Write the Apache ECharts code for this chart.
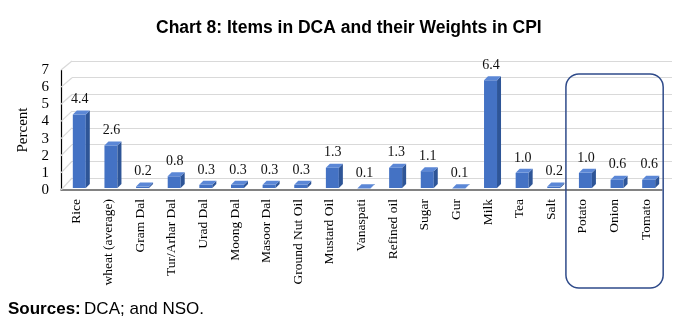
<!DOCTYPE html>
<html>
<head>
<meta charset="utf-8">
<script src="https://cdn.jsdelivr.net/npm/echarts@6/dist/echarts.min.js"></script>
<style>
  html, body { margin: 0; padding: 0; background: #fff; }
  #chart { width: 682px; height: 328px; }
</style>
</head>
<body>
<div id="chart"></div>
<script>
// Items covered by DCA and their weights (%) in the CPI basket
const categories = ['Rice', 'wheat (average)', 'Gram Dal', 'Tur/Arhar Dal', 'Urad Dal', 'Moong Dal',
  'Masoor Dal', 'Ground Nut Oil', 'Mustard Oil', 'Vanaspati', 'Refined oil', 'Sugar', 'Gur',
  'Milk', 'Tea', 'Salt', 'Potato', 'Onion', 'Tomato'];
const weights = [4.4, 2.6, 0.2, 0.8, 0.3, 0.3, 0.3, 0.3, 1.3, 0.1, 1.3, 1.1, 0.1, 6.4, 1.0, 0.2, 1.0, 0.6, 0.6];
const yTicks = [0, 1, 2, 3, 4, 5, 6, 7];
// vegetables highlighted with a box
const boxedFirst = 'Potato';
const boxedLast = 'Tomato';

const serif = '"Liberation Serif", "Times New Roman", serif';
const sans = '"Liberation Sans", Arial, sans-serif';

const chart = echarts.init(document.getElementById('chart'));

// 3D-looking column: front face, darker right side, lighter top
function renderBar(params, api) {
  const idx = api.value(0);
  const val = api.value(1);
  const top = api.coord([idx, val]);
  const base = api.coord([idx, 0]);
  const cx = top[0];
  const xL = cx - 4, xR = cx + 9;
  const d = 4, dy = 4;
  const yTop = top[1];
  const yBot = base[1] - 2;
  return {
    type: 'group',
    children: [
      { type: 'rect', shape: { x: xL, y: yTop, width: xR - xL, height: yBot - yTop },
        style: { fill: '#4472C4' } },
      { type: 'polygon', shape: { points: [[xR, yTop], [xR + d, yTop - dy], [xR + d, yBot - dy], [xR, yBot]] },
        style: { fill: '#2E5597' } },
      { type: 'polygon', shape: { points: [[xL, yTop], [xL + d, yTop - dy], [xR + d, yTop - dy], [xR, yTop]] },
        style: { fill: '#5B87D6' } },
      { type: 'text', x: cx + 3, y: yTop - 8,
        style: { text: val.toFixed(1), fill: '#111', font: '14px ' + serif, align: 'center', verticalAlign: 'bottom' } }
    ]
  };
}

// short floor/wall diagonals joining the front axis to the back-wall gridlines
function renderDiag(params, api) {
  const p = api.coord([0, api.value(1)]);
  const x0 = params.coordSys.x;
  return {
    type: 'line',
    shape: { x1: x0 - 11, y1: p[1] + 9 + 3 * (1 - api.value(1) / 7), x2: x0, y2: p[1] },
    style: { stroke: '#D9D9D9', lineWidth: 1.2 }
  };
}

const option = {
  animation: false,
  title: {
    text: 'Chart 8: Items in DCA and their Weights in CPI',
    left: 151, top: 14,
    textStyle: { fontFamily: sans, fontWeight: 'bold', fontSize: 17.5, color: '#000' }
  },
  grid: [
    { left: 61, right: 20, top: 70, bottom: 138 },   // front plane: bars, axes
    { left: 72, right: 10, top: 61, bottom: 150 }    // back wall: gridlines
  ],
  xAxis: [
    { type: 'category', gridIndex: 0, data: categories,
      axisLine: { lineStyle: { color: '#595959', width: 1.5 } },
      axisTick: { show: false },
      axisLabel: { rotate: 90, margin: 9, fontFamily: serif, fontSize: 13.5, color: '#000', interval: 0 } },
    { type: 'category', gridIndex: 1, data: categories, show: false }
  ],
  yAxis: [
    { type: 'value', gridIndex: 0, min: 0, max: 7, interval: 1,
      name: 'Percent', nameLocation: 'middle', nameGap: 30, nameRotate: 90,
      nameTextStyle: { fontFamily: serif, fontSize: 15, color: '#000' },
      axisLine: { show: true, lineStyle: { color: '#000', width: 1.2 } },
      axisTick: { show: false },
      splitLine: { show: false },
      axisLabel: { margin: 12, fontFamily: serif, fontSize: 15, color: '#000' } },
    { type: 'value', gridIndex: 1, min: 0, max: 7, interval: 1,
      axisLine: { show: false }, axisTick: { show: false }, axisLabel: { show: false },
      splitLine: { show: true, lineStyle: { color: '#D9D9D9', width: 1.2 } } }
  ],
  series: [
    { type: 'custom', xAxisIndex: 1, yAxisIndex: 1, renderItem: renderDiag,
      data: yTicks.map(v => [0, v]), silent: true, z: 1 },
    { type: 'custom', xAxisIndex: 0, yAxisIndex: 0, renderItem: renderBar,
      data: weights.map((v, i) => [i, v]), z: 3 }
  ]
};
chart.setOption(option);

// rounded box around the vegetables, placed from the axis scales
const i0 = categories.indexOf(boxedFirst);
const i1 = categories.indexOf(boxedLast);
const xa = chart.convertToPixel({ xAxisIndex: 0 }, i0);
const xb = chart.convertToPixel({ xAxisIndex: 0 }, i1);
const yTopBox = chart.convertToPixel({ yAxisIndex: 0 }, 6.77);
const yAxisBase = chart.convertToPixel({ yAxisIndex: 0 }, 0);
chart.setOption({
  graphic: [
    { type: 'rect', z: 10,
      shape: { x: xa - 17, y: yTopBox, width: (xb + 17) - (xa - 17), height: yAxisBase + 98 - yTopBox, r: 13 },
      style: { fill: 'none', stroke: '#2F4B8A', lineWidth: 1.5 } },
    { type: 'text', left: 8, top: 301,
      style: { rich: {
        b: { fontFamily: sans, fontWeight: 'bold', fontSize: 17, fill: '#000' },
        n: { fontFamily: sans, fontSize: 17, fill: '#000' } },
        text: '{b|Sources:} {n|DCA; and NSO.}' } }
  ]
});
</script>
</body>
</html>
